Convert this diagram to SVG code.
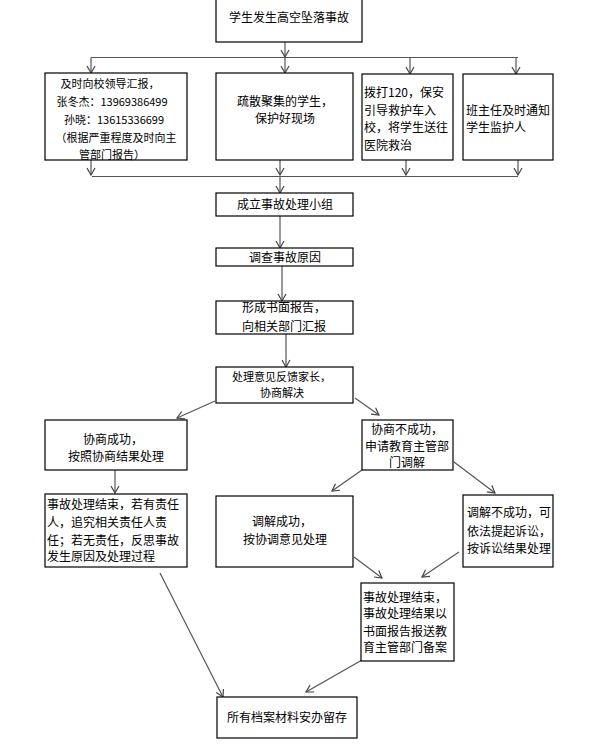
<svg xmlns="http://www.w3.org/2000/svg" width="595" height="745" viewBox="0 0 595 745">
<style>
.b{fill:#fff;stroke:#000;stroke-width:1.2}
.t{font-family:"Noto Sans CJK SC","Noto Sans",sans-serif;font-size:12px;fill:#000}
.s{font-size:11px}
.m{text-anchor:middle}
.c{fill:none;stroke:#555;stroke-width:1.2}
</style>
<defs>
<marker id="a" markerWidth="10" markerHeight="10" refX="9" refY="5" orient="auto" markerUnits="userSpaceOnUse"><path d="M2,1 L9,5 L2,9" fill="none" stroke="#444" stroke-width="1.2"/></marker>
</defs>
<rect width="595" height="745" fill="#fff"/>
<g id="connectors">
<path class="c" d="M285,42 V57" marker-end="url(#a)"/>
<path class="c" d="M91,57.5 H518"/>
<path class="c" d="M91,57.5 V73" marker-end="url(#a)"/>
<path class="c" d="M285,57.5 V73" marker-end="url(#a)"/>
<path class="c" d="M410,57.5 V74" marker-end="url(#a)"/>
<path class="c" d="M516,57.5 V74" marker-end="url(#a)"/>
<path class="c" d="M91,160 V175" marker-end="url(#a)"/>
<path class="c" d="M280,160 V175" marker-end="url(#a)"/>
<path class="c" d="M406,160 V175" marker-end="url(#a)"/>
<path class="c" d="M518,160 V175" marker-end="url(#a)"/>
<path class="c" d="M92,176.5 H518"/>
<path class="c" d="M280,176.5 V193" marker-end="url(#a)"/>
<path class="c" d="M280,216 V248" marker-end="url(#a)"/>
<path class="c" d="M282,266 V301" marker-end="url(#a)"/>
<path class="c" d="M286,334 V367" marker-end="url(#a)"/>
<path class="c" d="M215,401 L177,418" marker-end="url(#a)"/>
<path class="c" d="M355,398 L379,415" marker-end="url(#a)"/>
<path class="c" d="M115,470 V493" marker-end="url(#a)"/>
<path class="c" d="M362,470 L332,491" marker-end="url(#a)"/>
<path class="c" d="M454,462 L495,493" marker-end="url(#a)"/>
<path class="c" d="M354,557 L382,578" marker-end="url(#a)"/>
<path class="c" d="M459,552 L422,577" marker-end="url(#a)"/>
<path class="c" d="M160,573 L223,697" marker-end="url(#a)"/>
<path class="c" d="M362,660 L306,692" marker-end="url(#a)"/>
</g>
<g id="n_top">
<rect class="b" x="216" y="-2" width="146" height="44"/>
<text class="t m" x="289" y="22">学生发生高空坠落事故</text>
</g>
<g id="n_report">
<rect class="b" x="45" y="73" width="142" height="87"/>
<text class="t s m" x="110" y="88">及时向校领导汇报，</text>
<text class="t s m" x="112" y="106">张冬杰：13969386499</text>
<text class="t s m" x="114" y="124">孙晓：13615336699</text>
<text class="t s m" x="116" y="142">（根据严重程度及时向主</text>
<text class="t s m" x="112" y="159">管部门报告）</text>
</g>
<g id="n_evacuate">
<rect class="b" x="216" y="73" width="137" height="87"/>
<text class="t m" x="285" y="106">疏散聚集的学生，</text>
<text class="t m" x="285" y="123">保护好现场</text>
</g>
<g id="n_120">
<rect class="b" x="362" y="74" width="91" height="86"/>
<text class="t" x="364" y="97">拨打120，保安</text>
<text class="t" x="364" y="115">引导救护车入</text>
<text class="t" x="364" y="132">校，将学生送往</text>
<text class="t" x="364" y="150">医院救治</text>
</g>
<g id="n_notify">
<rect class="b" x="463" y="74" width="90" height="86"/>
<text class="t" x="466" y="115">班主任及时通知</text>
<text class="t" x="466" y="132">学生监护人</text>
</g>
<g id="n_group">
<rect class="b" x="216" y="193" width="137" height="23"/>
<text class="t m" x="285" y="209">成立事故处理小组</text>
</g>
<g id="n_investigate">
<rect class="b" x="216" y="248" width="137" height="18"/>
<text class="t m" x="285" y="262">调查事故原因</text>
</g>
<g id="n_written">
<rect class="b" x="216" y="301" width="137" height="33"/>
<text class="t" x="242" y="312">形成书面报告，</text>
<text class="t" x="242" y="331">向相关部门汇报</text>
</g>
<g id="n_feedback">
<rect class="b" x="216" y="367" width="137" height="36"/>
<text class="t s" x="232" y="381">处理意见反馈家长，</text>
<text class="t s" x="260" y="397">协商解决</text>
</g>
<g id="n_success">
<rect class="b" x="45" y="420" width="142" height="50"/>
<text class="t m" x="113" y="444">协商成功，</text>
<text class="t m" x="116" y="461">按照协商结果处理</text>
</g>
<g id="n_fail">
<rect class="b" x="362" y="420" width="91" height="50"/>
<text class="t m" x="407" y="434">协商不成功，</text>
<text class="t m" x="407" y="451">申请教育主管部</text>
<text class="t m" x="407" y="467">门调解</text>
</g>
<g id="n_end1">
<rect class="b" x="45" y="494" width="142" height="73"/>
<text class="t" x="47" y="509">事故处理结束，若有责任</text>
<text class="t" x="47" y="527">人，追究相关责任人责</text>
<text class="t" x="47" y="545">任；若无责任，反思事故</text>
<text class="t" x="47" y="561">发生原因及处理过程</text>
</g>
<g id="n_mediate_ok">
<rect class="b" x="216" y="496" width="137" height="71"/>
<text class="t m" x="282" y="526">调解成功，</text>
<text class="t m" x="285" y="544">按协调意见处理</text>
</g>
<g id="n_mediate_fail">
<rect class="b" x="463" y="495" width="90" height="72"/>
<text class="t" x="467" y="517">调解不成功，可</text>
<text class="t" x="467" y="536">依法提起诉讼，</text>
<text class="t" x="467" y="553">按诉讼结果处理</text>
</g>
<g id="n_end2">
<rect class="b" x="361" y="583" width="93" height="78"/>
<text class="t" x="363" y="602">事故处理结束，</text>
<text class="t" x="363" y="618">事故处理结果以</text>
<text class="t" x="363" y="636">书面报告报送教</text>
<text class="t" x="363" y="652">育主管部门备案</text>
</g>
<g id="n_archive">
<rect class="b" x="217" y="697" width="140" height="41"/>
<text class="t m" x="287" y="722">所有档案材料安办留存</text>
</g>
</svg>
